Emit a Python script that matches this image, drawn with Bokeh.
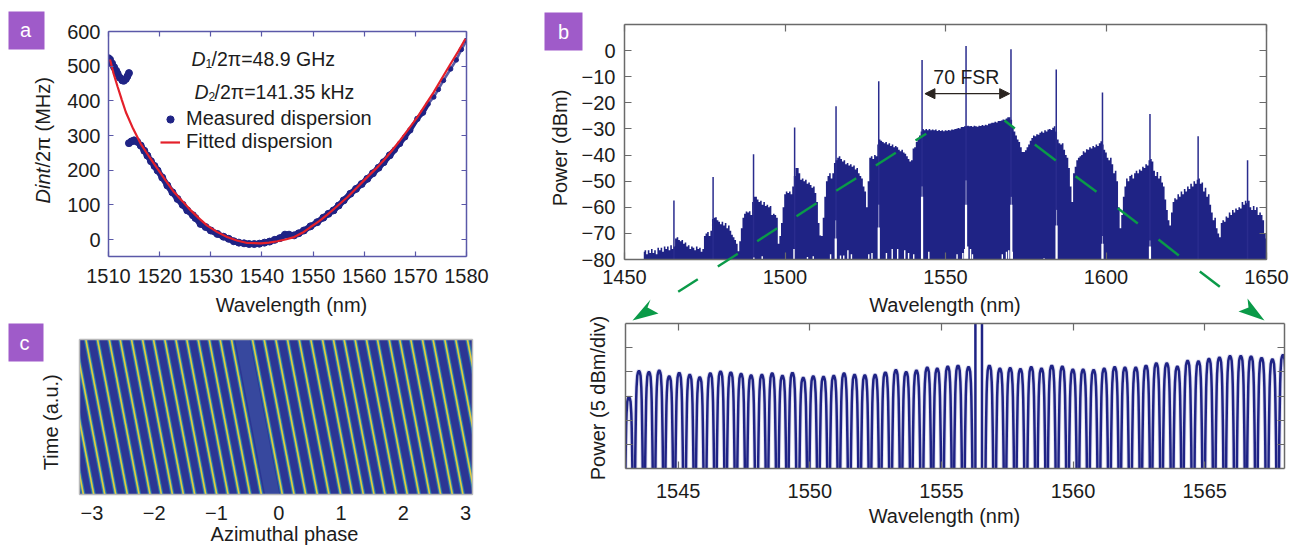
from math import pi
from bokeh.plotting import figure
from bokeh.layouts import row, column
from bokeh.models import Range1d, LinearAxis, FixedTicker, Legend, LegendItem, Arrow, NormalHead
from bokeh.core.properties import value
from bokeh.embed import file_html
from bokeh.resources import INLINE

# ---------- panel a ----------
meas_wl = [1510.0,1510.3,1510.7,1511.1,1511.5,1511.8,1512.2,1512.7,1513.0,1513.4,1513.7,1514.0,
           1514.0,1514.5,1515.0,1515.6,1516.3,1517.0,1517.6,1518.3,1519.0,1519.6,1520.5,1521.5,1522.5,1523.5,
           1524.5,1525.4,1526.5,1527.0,1528.0,1529.0,1530.0,1531.3,1532.5,1533.5,1534.5,1535.5,1536.5,1537.5,
           1538.5,1539.5,1540.5,1541.5,1542.5,1543.5,1544.5,1545.3,1546.3,1547.2,1548.2,1549.5,1550.8,1552.0,
           1553.0,1554.0,1555.0,1556.0,1557.3,1558.4,1559.5,1560.6,1561.7,1562.8,1563.8,1565.0,1566.0,1567.0,
           1568.0,1569.0,1570.4,1571.5,1572.5,1573.6,1574.5,1575.5,1576.9,1578.0,1579.0,1580.0]
meas_mhz = [523,519,508,497,487,478,467,459,458,463,471,480,
            278,283,286,282,271,256,242,226,212,199,179,156,136,117,
            100,84,70,62,45,36,26,16,8,2,-5,-9,-11,-13,
            -13,-12,-9,-6,-1,4,14,14,12,18,26,38,50,63,
            74,84,98,113,132,146,160,175,191,207,223,243,259,276,
            295,315,348,366,391,411,433,459,492,518,548,574]
fit_wl = [1510.3,1511.0,1511.8,1512.6,1513.4,1514.8,1516.3,1518.0,1519.6,1521.2,1522.8,1524.5,1526.1,1527.7,1529.3,
          1531.2,1533.2,1535.1,1537.1,1539.8,1541.4,1543.0,1544.6,1546.3,1548.0,1549.5,1551.2,1552.8,1554.7,1556.7,
          1558.6,1560.6,1562.2,1563.8,1565.4,1567.0,1568.7,1570.4,1572.0,1573.6,1575.2,1576.9,1578.4,1579.8]
fit_mhz = [519,478,440,403,367,320,276,238,204,170,137,110,84,61,40,22,7,-3,-10,-11,-9,-5,0,7,20,36,53,72,96,122,
           150,180,203,228,256,286,319,353,389,425,465,507,543,579]
a_xticks = [1510,1520,1530,1540,1550,1560,1570,1580]
a_yticks = [0,100,200,300,400,500,600]

# ---------- panel b ----------
# envelope of the comb, read every 0.5 nm from 1456 nm
env_db = [
    -77,-76.5,-78,-76.5,-77.5,-76,-77.5,-76.5,-78,-75.5,
    -76.5,-75.5,-77,-75,-76,-75,-76.5,-74.5,-76,-75,
    -72,-71.5,-72.5,-73,-72.5,-74,-73.5,-75,-74.5,-76,
    -75,-75.5,-76.5,-75,-76,-75.5,-77,-76,-71,-70,
    -69.5,-71,-69,-64.5,-64,-63.8,-65,-65.5,-66.5,-65.5,
    -67,-66,-68,-67,-69,-70.5,-71.5,-72.5,-74,-76.8,
    -73,-68,-64,-62.5,-61.6,-62,-61.5,-63,-58,-56,
    -56,-57,-58,-57.5,-59,-58,-59.5,-59,-60,-59.5,
    -63,-62.5,-63,-64,-74,-71,-66,-60,-55,-54,
    -54.5,-54,-55,-52,-48,-45,-45,-47,-49.5,-49,
    -50,-49.5,-51,-50.5,-51.5,-52.5,-52,-54.5,-58,-66,
    -70.8,-71,-64,-56,-50,-48,-47,-49,-47,-43,
    -42,-41,-40.5,-41.5,-42.5,-42,-43.5,-43,-44,-43.5,
    -44.5,-44,-45.5,-45,-47,-48,-49,-52,-54,-60,
    -50,-41,-40.5,-41.5,-40,-40.5,-36,-34,-34.5,-35,
    -35.5,-35,-36,-35.5,-36.5,-36,-37,-36.5,-37,-38,
    -38.5,-38,-39,-39.5,-40.5,-41.5,-42.5,-42,-37.5,-37,
    -35,-34,-32.5,-31,-30,-30.5,-30,-30.5,-30,-30.5,
    -30.2,-30.5,-30.2,-30.8,-30.4,-30.8,-30.5,-30.9,-30.5,-30.7,
    -30.4,-30.6,-30.2,-30.3,-30,-29.9,-29.6,-29.8,-29.3,-29.3,
    -29,-29,-28.8,-29,-28.9,-29.2,-28.8,-29.0,-29.2,-28.8,
    -28.9,-28.5,-28.8,-28.4,-28.6,-28,-27.9,-27.6,-27.6,-27.2,
    -27.5,-27,-27,-26.8,-26.4,-26.5,-26,-25.5,-25.5,-26.5,
    -29,-31,-32.5,-34,-35,-37,-38.8,-38.8,-38.2,-37,
    -36,-34.5,-33.5,-32.5,-32.8,-32,-32.2,-31.5,-31,-31.5,
    -30.5,-31,-30.2,-30,-30.4,-29.5,-29,-31,-34,-35.5,
    -36,-35.5,-38,-40,-41,-45,-52,-58,-47,-44.5,
    -42,-41,-40.5,-40,-38.5,-39,-37.8,-38,-37,-37.5,
    -36.5,-37,-36,-36.5,-35.5,-34.7,-36,-38,-39,-41,
    -42,-41,-43.5,-47,-46,-50,-60,-68,-63,-56,
    -52,-49,-50,-48,-47.5,-49,-47,-46,-47,-45.5,
    -46,-44.5,-45,-43.5,-44,-42,-41.5,-42.5,-46,-48,
    -46.5,-49,-48,-50.5,-52,-57,-61,-65,-67,-62,
    -58,-56.5,-57,-55,-56,-54,-55,-53,-54,-52,
    -53,-51,-52,-50,-51,-49.5,-49,-51,-50.5,-54,
    -52.5,-56,-55,-59,-62,-65,-64,-68,-70,-71.5,
    -66,-65,-65.5,-63.5,-64,-62,-63,-61,-62,-60.5,
    -61,-60,-60.5,-58,-59,-57.5,-58.5,-57.5,-60,-61,
    -59.5,-61,-60,-63,-62,-63,-65,-70,-72,-75]
env_wl = [1456 + 0.5 * i for i in range(len(env_db))]
spike_wl = [1465.4,1477.6,1490.2,1503.0,1515.9,1529.2,1542.7,1556.4,1570.4,1584.5,1598.9,1613.7,1628.7,1644.1]
spike_db = [-57.4,-48.4,-39.7,-29.4,-21.3,-11.7,-3.6,1.8,0.5,-7.2,-16.0,-24.3,-32.8,-42.0]
notch_wl = [1515.8,1529.2,1542.7,1556.4,1570.5,1584.6,1598.9,1613.7]
notch_top = [-72.0,-67.7,-56.0,-59.0,-59.0,-67.0,-74.0,-75.0]
notch_faint = [-65.0,-59.0,-52.0,-49.7,-56.0,-61.0,-71.0,-72.7]
tooth_wl = [1490.3,1492.9,1502.8,1507.0,1508.8,1514.2,1517.3,1518.3,1519.6,1520.7,1526.1,1527.1,1531.6,1533.4,
            1535.1,1537.3,1538.5,1540.1,1544.8,1553.6,1555.4,1556.0,1556.9,1557.8,1558.4,1567.7,1569.0,1569.7,1570.8,1580.7]
tooth_db = [-79.2,-78.8,-76.0,-79.0,-78.8,-78.0,-78.5,-78.5,-76.5,-78.0,-78.0,-77.5,-77.5,-76.0,
            -76.0,-76.5,-77.5,-78.0,-77.0,-78.0,-77.5,-76.0,-75.0,-76.0,-78.0,-78.0,-77.0,-76.5,-77.0,-79.5]
b_xticks = [1450,1500,1550,1600,1650]
b_yticks = [0,-10,-20,-30,-40,-50,-60,-70,-80]

# ---------- panel d (zoomed comb) ----------
comb_wl = [1543.13,1543.51,1543.89,1544.28,1544.66,1545.04,1545.44,1545.82,1546.22,1546.61,1547.0,1547.39,1547.77,
           1548.18,1548.57,1548.96,1549.34,1549.75,1550.13,1550.52,1550.91,1551.30,1551.70,1552.09,1552.48,1552.87,
           1553.27,1553.66,1554.05,1554.46,1554.84,1555.24,1555.63,1556.03,1556.82,1557.22,1557.61,1558.0,
           1558.41,1558.80,1559.19,1559.59,1559.99,1560.38,1560.78,1561.18,1561.58,1561.97,1562.38,1562.77,1563.16,
           1563.56,1563.96,1564.35,1564.76,1565.16,1565.56,1565.96,1566.37,1566.76,1567.16,1567.57,1567.97]
comb_db = [14.8,20.2,20.0,20.3,19.1,19.8,19.4,18.9,19.7,20.1,19.9,19.6,19.3,19.4,19.7,19.2,19.8,18.8,19.1,19.0,19.2,
           19.7,19.4,19.3,19.4,19.9,20.4,20.0,20.3,20.9,20.7,21.1,21.3,21.0,21.3,20.7,20.8,20.6,21.0,20.7,21.3,
           21.1,20.5,20.5,20.4,20.7,21.0,20.9,20.9,21.3,21.8,21.8,21.1,22.3,22.2,22.7,23.0,23.3,23.3,23.2,22.9,22.6,23.5]
laser_walls = [1556.29, 1556.54]
tooth_offset = [-0.155,-0.14,-0.13,-0.115,-0.105,-0.09,-0.063,-0.04,-0.02,0.0,0.02,0.04,0.063,0.09,0.105,0.115,0.13,0.14,0.155]
tooth_drop = [28.0,18.0,14.0,9.0,6.0,3.4,1.0,0.4,0.1,0.0,0.1,0.4,1.0,3.4,6.0,9.0,14.0,18.0,28.0]
d_xticks = [1545,1550,1555,1560,1565]
d_yticks = [5,10,15,20,25]

# ---------- panel c ----------
stripe_top = [-3.617,-3.451,-3.274,-3.098,-2.911,-2.723,-2.547,-2.365,-2.188,-2.012,-1.83,-1.653,-1.477,-1.295,-1.118,
              -0.942,-0.76,-0.423,-0.235,-0.048,0.139,0.326,0.514,0.701,0.877,1.049,1.225,1.407,1.584,1.771,1.942,
              2.119,2.306,2.477,2.665,2.841,3.028]
stripe_drift = 0.48
gap_band = (-0.70, -0.47)
c_xticks = [-3,-2,-1,0,1,2,3]

FONT = "Liberation Sans"
TICK = "20px"
INK = "#1c1c1c"
NAVY = "#1f2385"
GREY = "#6a6a6a"
BLUE_FRAME = "#5a58a8"
GREEN = "#0a9a48"


def minus(vals):
    return {v: (f"\u2212{abs(v)}" if v < 0 else str(v)) for v in vals}


def blank(vals):
    return {v: "" for v in vals}


def base(x_range, y_range, width, height, left, right, top, bottom):
    p = figure(width=width, height=height, x_range=x_range, y_range=y_range, output_backend="svg",
               toolbar_location=None, min_border_left=left, min_border_right=right, min_border_top=top,
               min_border_bottom=bottom, background_fill_color="white", border_fill_color=None)
    p.grid.visible = False
    return p


def style(p, xticks, yticks, color, show_y=True, x_standoff=9, y_standoff=7, tick=6, box_ticks=True):
    p.xaxis.ticker = FixedTicker(ticks=xticks)
    p.yaxis.ticker = FixedTicker(ticks=yticks)
    p.yaxis.major_label_overrides = minus(yticks) if show_y else blank(yticks)
    p.xaxis.major_label_overrides = minus(xticks)
    for ax in (p.xaxis[0], p.yaxis[0]):
        ax.axis_line_color = color
        ax.axis_line_width = 1.5
        ax.major_tick_line_color = color
        ax.major_tick_line_width = 1.2
        ax.major_tick_in = tick
        ax.major_tick_out = 0
        ax.minor_tick_line_color = None
        ax.major_label_text_font = FONT
        ax.major_label_text_font_size = TICK
        ax.major_label_text_color = INK
    p.xaxis[0].major_label_standoff = x_standoff
    p.yaxis[0].major_label_standoff = y_standoff
    for side, t in (("above", xticks), ("right", yticks)):
        ax = LinearAxis(ticker=FixedTicker(ticks=t if box_ticks else []), axis_line_color=color, axis_line_width=1.5,
                        major_tick_line_color=color if box_ticks else None, major_tick_line_width=1.2,
                        major_tick_in=tick, major_tick_out=0, minor_tick_line_color=None,
                        major_label_overrides=blank(t), major_label_standoff=0)
        p.add_layout(ax, side)
    p.outline_line_color = None


# panel a
pa = base(Range1d(1510, 1580), Range1d(-49, 600), 492, 314, 100, 34, 23, 66)
style(pa, a_xticks, a_yticks, BLUE_FRAME, tick=5, x_standoff=12, y_standoff=8)
i_gap = meas_wl.index(1514.5) - 1
i_mid = meas_wl.index(1566.0)
i_end = meas_wl.index(1572.5)
pa.line(meas_wl[:i_gap], meas_mhz[:i_gap], line_color=NAVY, line_width=6)
pa.line(meas_wl[i_gap:i_mid + 1], meas_mhz[i_gap:i_mid + 1], line_color=NAVY, line_width=6)
pa.line(meas_wl[i_mid:i_end + 1], meas_mhz[i_mid:i_end + 1], line_color=NAVY, line_width=4.5)
pa.line(meas_wl[i_end:], meas_mhz[i_end:], line_color=NAVY, line_width=2.6, line_alpha=0.75)
r_big = pa.scatter(meas_wl[:i_mid], meas_mhz[:i_mid], size=7, color=NAVY)
pa.scatter(meas_wl[i_mid:i_end], meas_mhz[i_mid:i_end], size=5.5, color=NAVY)
pa.scatter(meas_wl[i_end:], meas_mhz[i_end:], size=4.5, color=NAVY)
r_fit = pa.line(fit_wl, fit_mhz, line_color="#e4202a", line_width=2.2)
leg = Legend(items=[LegendItem(label="Measured dispersion", renderers=[r_big]),
                    LegendItem(label="Fitted dispersion", renderers=[r_fit])],
             location=(48, 99), background_fill_alpha=0, border_line_alpha=0, label_text_font=FONT,
             label_text_font_size="20px", label_text_color=INK, glyph_width=20, glyph_height=18, spacing=-3,
             label_standoff=6, padding=4, margin=0, label_height=20)
pa.add_layout(leg)

# panel c
pc = base(Range1d(-3.2, 3.11), Range1d(0, 1), 492, 223, 71, 28, 17, 51)
style(pc, c_xticks, [], "#b8b8b8", tick=0, x_standoff=11, show_y=False, box_ticks=False)
pc.xaxis[0].major_tick_line_color = None
pc.background_fill_color = "#2c3693"
pc.patch([gap_band[0], gap_band[1], gap_band[1] + stripe_drift, gap_band[0] + stripe_drift], [1, 1, 0, 0],
         color="#37489e", line_alpha=0)
xs = [[s, s + stripe_drift] for s in stripe_top]
ys = [[1, 0] for _ in stripe_top]
pc.multi_line(xs, ys, line_color="#2c6aae", line_width=4.2)
pc.multi_line(xs, ys, line_color="#37a09e", line_width=2.6)
pc.multi_line(xs, ys, line_color="#e8c93c", line_width=1.5)

# panel b
pb = base(Range1d(1450, 1650), Range1d(-80, 10), 793, 310, 124, 27, 16, 59)
style(pb, b_xticks, b_yticks, GREY, tick=7, x_standoff=10, y_standoff=9)
pb.varea_step(x=env_wl, y1=[-80] * len(env_wl), y2=env_db, step_mode="center", fill_color=NAVY)
pb.segment(spike_wl, [-80] * len(spike_wl), spike_wl, spike_db, line_color="#2a2c8e", line_width=1.5)
pb.segment(notch_wl, [-80] * len(notch_wl), notch_wl, notch_faint, line_color="#9a9ccc", line_width=1)
pb.segment(notch_wl, [-80] * len(notch_wl), notch_wl, notch_top, line_color="white", line_width=2.2)
pb.segment(tooth_wl, [-80] * len(tooth_wl), tooth_wl, tooth_db, line_color="white", line_width=1.4)
pb.add_layout(Arrow(x_start=1543.6, y_start=-16.5, x_end=1570.0, y_end=-16.5, line_color="#2a2420", line_width=1.3,
                    start=NormalHead(size=10, fill_color="#2a2420", line_color="#2a2420"),
                    end=NormalHead(size=10, fill_color="#2a2420", line_color="#2a2420")))
pb.text([1556.5], [-10], ["70 FSR"], text_font=value(FONT), text_font_size="19.5px", text_color=INK,
        text_align="center", text_baseline="middle")

# panel d
pd_ = base(Range1d(1543.0, 1568.03), Range1d(0, 30), 793, 227, 125, 9, 5, 77)
style(pd_, d_xticks, d_yticks, GREY, tick=7, show_y=False, x_standoff=15)
dx = [[c + o for o in tooth_offset] for c in comb_wl]
dy = [[t - d for d in tooth_drop] for t in comb_db]
pd_.multi_line(dx, dy, line_color="#c9c9e6", line_width=4.4, line_alpha=0.6)
pd_.multi_line(dx, dy, line_color=NAVY, line_width=2.5)
pd_.segment(laser_walls, [0, 0], laser_walls, [30, 30], line_color=NAVY, line_width=2.5)

# overlay in page pixels
ov = figure(width=1285, height=537, x_range=Range1d(8, 1293), y_range=Range1d(545, 8), output_backend="svg",
            toolbar_location=None, x_axis_type=None, y_axis_type=None, min_border=0, outline_line_color=None,
            background_fill_color=None, border_fill_color=None, margin=(-537, 0, 0, 0))
ov.grid.visible = False
ov.quad(left=[6, 544, 5], right=[44, 582, 43], top=[11, 12, 323], bottom=[49, 50, 361], fill_color="#9f5bc9", line_alpha=0)
ov.text([25, 563, 24], [29, 31, 342], ["a", "b", "c"], text_font=value(FONT), text_font_size="20px", text_color="white",
        text_align="center", text_baseline="middle")
txt = dict(text_font=value(FONT), text_color=INK, text_baseline="middle", text_align="left")
cen = dict(text_font=value(FONT), text_color=INK, text_baseline="middle", text_align="center", text_font_size="20px")
ov.text([191, 194], [58, 91], ["D", "D"], text_font_size="19.5px", text_font_style="italic", **txt)
ov.text([205, 208], [63, 96], ["1", "2"], text_font_size="12px", **txt)
ov.text([211, 214], [58, 91], ["/2\u03c0=48.9 GHz", "/2\u03c0=141.35 kHz"], text_font_size="19.5px", **txt)
ov.text([42], [203], ["Dint"], text_font_size="20px", text_font_style="italic", angle=pi / 2, **txt)
ov.text([42], [167], ["/2\u03c0 (MHz)"], text_font_size="20px", angle=pi / 2, **txt)
ov.text([291, 944.5, 944, 284], [304, 304, 515.7, 533.5],
        ["Wavelength (nm)", "Wavelength (nm)", "Wavelength (nm)", "Azimuthal phase"], **cen)
ov.text([559, 597, 50], [147.5, 397.5, 421.7], ["Power (dBm)", "Power (5 dBm/div)", "Time (a.u.)"], angle=pi / 2, **cen)
ov.segment([677.7, 717.3, 756.7, 796, 835.7, 875.3, 915, 1004, 1034.3, 1075, 1117.3, 1158, 1199.3],
           [291.3, 266, 240.7, 215.7, 190.3, 165, 140, 120, 144, 175.7, 207.7, 239, 271],
           [697.3, 737.3, 776.7, 816, 855.7, 895.3, 925.7, 1014.3, 1055.3, 1096, 1137.3, 1178.3, 1219.3],
           [278.7, 253.3, 227.7, 202.7, 177.7, 152.3, 133.3, 128, 160, 191.3, 223, 255, 286.3],
           line_color=GREEN, line_width=2.4)
ov.patch([632, 650, 647, 658], [320, 299, 307, 313], color=GREEN, line_alpha=0)
ov.patch([1264, 1247, 1248, 1238], [320, 298, 307, 311], color=GREEN, line_alpha=0)

left = column(column(pa, spacing=0), column(pc, spacing=0), spacing=0)
right = column(column(pb, spacing=0), column(pd_, spacing=0), spacing=0)
layout = column(row(left, right, spacing=0), ov, spacing=0, margin=(8, 0, 0, 8))
open("out.html", "w").write(file_html(layout, INLINE))
